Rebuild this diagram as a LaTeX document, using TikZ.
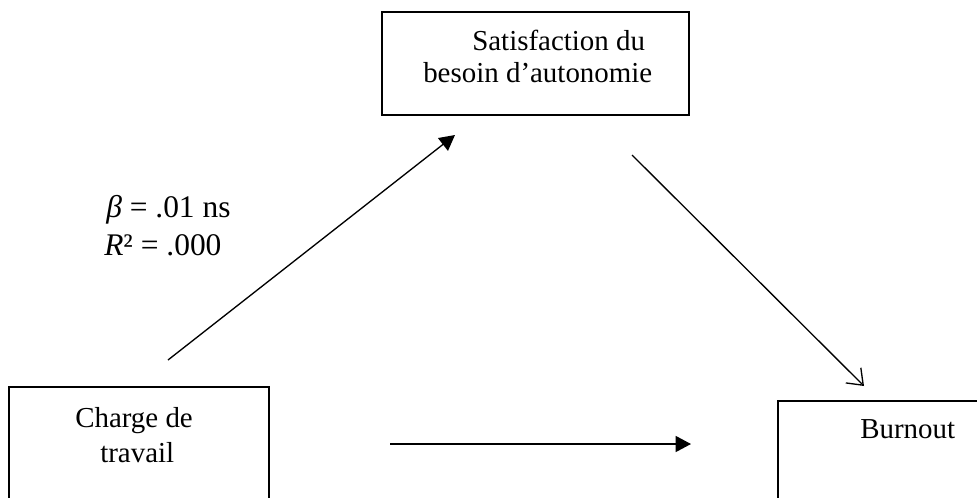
\documentclass[tikz,border=0pt]{standalone}
\usepackage{fontspec}
\setmainfont{Liberation Serif}
\usetikzlibrary{arrows.meta}
\begin{document}
\begin{tikzpicture}[x=0.75pt,y=-0.75pt,
  boxline/.style={draw=black,line width=0.9pt},
  txt/.style={anchor=base west,inner sep=0pt,font=\fontsize{21.7}{26}\selectfont},
  lbl/.style={anchor=base west,inner sep=0pt,font=\fontsize{23.6}{28}\selectfont},
  conn/.style={line width=1pt}]
\useasboundingbox (0,0) rectangle (977,497);
\clip (0,0) rectangle (977,497);
% boxes
\draw[boxline] (382,12) rectangle (689,115);
\draw[boxline] (9,387) rectangle (269,520);
\draw[boxline] (778,401) rectangle (1000,520);
% texts
\node[txt] (sat1) at (472,50) {Satisfaction du};
\node[txt] (sat2) at (423,82) {besoin d’autonomie};
\node[txt] (ch1) at (75,427) {Charge de};
\node[txt] (ch2) at (100,462) {travail};
\node[txt] (bo) at (860,438) {Burnout};
\node[lbl] (beta) at (106,217) {\textit{β} = .01 ns};
\node[lbl] (rsq) at (104,255) {\textit{R}² = .000};
% arrow endpoints
\coordinate (a1s) at (168,360);
\coordinate (a1e) at (455,135);
\coordinate (a2s) at (632,155);
\coordinate (a2e) at (864,386);
\coordinate (a3s) at (390,444);
\coordinate (a3e) at (691,444);
\draw[conn,-{Triangle[length=11.5pt,width=12pt]}] (a1s) -- (a1e);
\draw[conn,-{Straight Barb[length=10.5pt,width=16pt,line width=1pt]}] (a2s) -- (a2e);
\draw[conn,-{Triangle[length=11.5pt,width=12pt]}] (a3s) -- (a3e);
\end{tikzpicture}
\end{document}
